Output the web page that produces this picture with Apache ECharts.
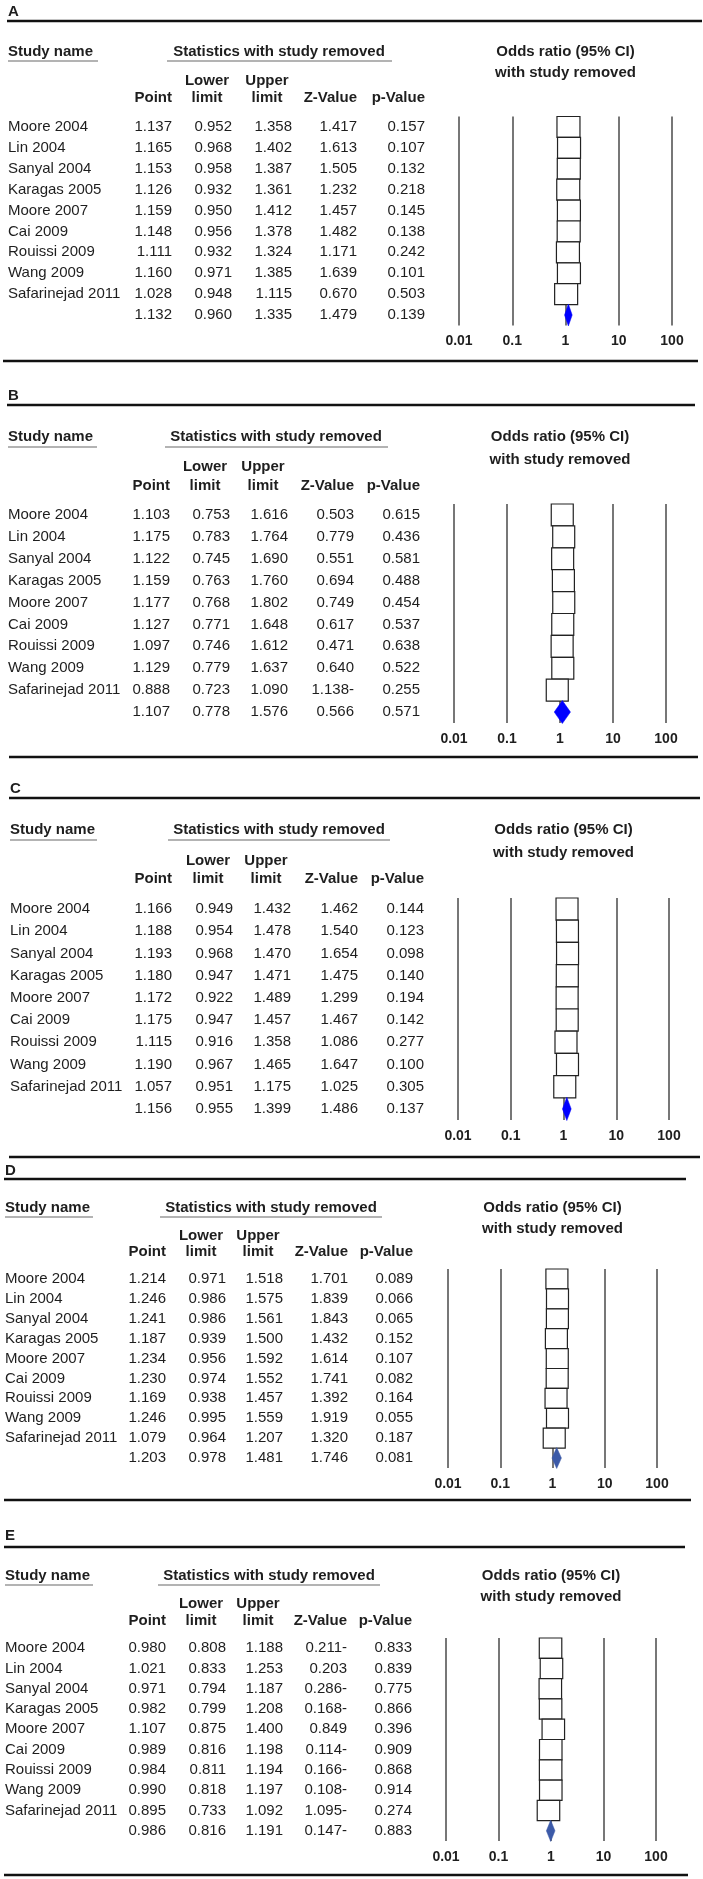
<!DOCTYPE html>
<html>
<head>
<meta charset="utf-8">
<script src="https://cdn.jsdelivr.net/npm/echarts@6/dist/echarts.min.js"></script>
<style>html,body{margin:0;padding:0;background:#fff}#c{width:703px;height:1879px}</style>
</head>
<body>
<div id="c"></div>
<script>
// ---------------- DATA ----------------
const panelLabels = ['A', 'B', 'C', 'D', 'E'];
const studyNames = ['Moore 2004', 'Lin 2004', 'Sanyal 2004', 'Karagas 2005', 'Moore 2007',
  'Cai 2009', 'Rouissi 2009', 'Wang 2009', 'Safarinejad 2011', ''];
const tickLabels = ['0.01', '0.1', '1', '10', '100'];

// last element of each array = pooled (summary) row
const A_point = [1.137, 1.165, 1.153, 1.126, 1.159, 1.148, 1.111, 1.160, 1.028, 1.132];
const A_lower = [0.952, 0.968, 0.958, 0.932, 0.950, 0.956, 0.932, 0.971, 0.948, 0.960];
const A_upper = [1.358, 1.402, 1.387, 1.361, 1.412, 1.378, 1.324, 1.385, 1.115, 1.335];
const A_z = ['1.417', '1.613', '1.505', '1.232', '1.457', '1.482', '1.171', '1.639', '0.670', '1.479'];
const A_p = ['0.157', '0.107', '0.132', '0.218', '0.145', '0.138', '0.242', '0.101', '0.503', '0.139'];

const B_point = [1.103, 1.175, 1.122, 1.159, 1.177, 1.127, 1.097, 1.129, 0.888, 1.107];
const B_lower = [0.753, 0.783, 0.745, 0.763, 0.768, 0.771, 0.746, 0.779, 0.723, 0.778];
const B_upper = [1.616, 1.764, 1.690, 1.760, 1.802, 1.648, 1.612, 1.637, 1.090, 1.576];
const B_z = ['0.503', '0.779', '0.551', '0.694', '0.749', '0.617', '0.471', '0.640', '1.138-', '0.566'];
const B_p = ['0.615', '0.436', '0.581', '0.488', '0.454', '0.537', '0.638', '0.522', '0.255', '0.571'];

const C_point = [1.166, 1.188, 1.193, 1.180, 1.172, 1.175, 1.115, 1.190, 1.057, 1.156];
const C_lower = [0.949, 0.954, 0.968, 0.947, 0.922, 0.947, 0.916, 0.967, 0.951, 0.955];
const C_upper = [1.432, 1.478, 1.470, 1.471, 1.489, 1.457, 1.358, 1.465, 1.175, 1.399];
const C_z = ['1.462', '1.540', '1.654', '1.475', '1.299', '1.467', '1.086', '1.647', '1.025', '1.486'];
const C_p = ['0.144', '0.123', '0.098', '0.140', '0.194', '0.142', '0.277', '0.100', '0.305', '0.137'];

const D_point = [1.214, 1.246, 1.241, 1.187, 1.234, 1.230, 1.169, 1.246, 1.079, 1.203];
const D_lower = [0.971, 0.986, 0.986, 0.939, 0.956, 0.974, 0.938, 0.995, 0.964, 0.978];
const D_upper = [1.518, 1.575, 1.561, 1.500, 1.592, 1.552, 1.457, 1.559, 1.207, 1.481];
const D_z = ['1.701', '1.839', '1.843', '1.432', '1.614', '1.741', '1.392', '1.919', '1.320', '1.746'];
const D_p = ['0.089', '0.066', '0.065', '0.152', '0.107', '0.082', '0.164', '0.055', '0.187', '0.081'];

const E_point = [0.980, 1.021, 0.971, 0.982, 1.107, 0.989, 0.984, 0.990, 0.895, 0.986];
const E_lower = [0.808, 0.833, 0.794, 0.799, 0.875, 0.816, 0.811, 0.818, 0.733, 0.816];
const E_upper = [1.188, 1.253, 1.187, 1.208, 1.400, 1.198, 1.194, 1.197, 1.092, 1.191];
const E_z = ['0.211-', '0.203', '0.286-', '0.168-', '0.849', '0.114-', '0.166-', '0.108-', '1.095-', '0.147-'];
const E_p = ['0.833', '0.839', '0.775', '0.866', '0.396', '0.909', '0.868', '0.914', '0.274', '0.883'];

const panelData = [
  {point: A_point, lower: A_lower, upper: A_upper, z: A_z, p: A_p},
  {point: B_point, lower: B_lower, upper: B_upper, z: B_z, p: B_p},
  {point: C_point, lower: C_lower, upper: C_upper, z: C_z, p: C_p},
  {point: D_point, lower: D_lower, upper: D_upper, z: D_z, p: D_p},
  {point: E_point, lower: E_lower, upper: E_upper, z: E_z, p: E_p}
];

// ---------------- LAYOUT (positions / styles only) ----------------
const FONT = "'Liberation Sans', Arial, Helvetica, sans-serif";
const layouts = [
  {labelY: 12, top: 21, topX: [7, 702], h1: 52, ul: 61, h2: 81, h3: 98, t2: 73, gTop: 116.5, gH: 209, gL: 459, gW: 213, bot: 361, botX: [3, 698], sx: 8, sul: [8, 98], stc: 279, stul: [167, 392], cols: [172, 232, 292, 357, 425], color: '#0000ff', boxW: 23},
  {labelY: 396, top: 405, topX: [7, 695], h1: 437, ul: 447, h2: 467, h3: 486, t2: 460, gTop: 504, gH: 219, gL: 454, gW: 212, bot: 757, botX: [9, 698], sx: 8, sul: [8, 97], stc: 276, stul: [165, 388], cols: [170, 230, 288, 354, 420], color: '#0000ff', boxW: 22},
  {labelY: 789, top: 798, topX: [9, 700], h1: 830, ul: 840, h2: 861, h3: 879, t2: 853, gTop: 898, gH: 222, gL: 458, gW: 211, bot: 1157, botX: [9, 700], sx: 10, sul: [10, 97], stc: 279, stul: [168, 390], cols: [172, 233, 291, 358, 424], color: '#0000ff', boxW: 22},
  {labelY: 1171, top: 1179, topX: [4, 686], h1: 1208, ul: 1217, h2: 1236, h3: 1252, t2: 1229, gTop: 1269, gH: 199, gL: 448, gW: 209, bot: 1500, botX: [4, 691], sx: 5, sul: [5, 93], stc: 271, stul: [160, 382], cols: [166, 226, 283, 348, 413], color: '#3c5aa8', boxW: 22},
  {labelY: 1536, top: 1547, topX: [4, 685], h1: 1576, ul: 1585, h2: 1604, h3: 1621, t2: 1597, gTop: 1638, gH: 203, gL: 446, gW: 210, bot: 1875, botX: [4, 688], sx: 5, sul: [5, 93], stc: 269, stul: [158, 380], cols: [166, 226, 283, 347, 412], color: '#3c5aa8', boxW: 22.5}
];

const TXT = '#1e1e1e';
function txt(x, y, s, align, bold) {
  return {
    type: 'text', x: x, y: y, silent: true,
    style: {
      text: s, fill: TXT, font: (bold ? 'bold ' : '') + '15px ' + FONT,
      align: align, textAlign: align, verticalAlign: 'middle', textVerticalAlign: 'middle'
    }
  };
}
function hline(x1, x2, y, w, color) {
  return {type: 'line', silent: true, shape: {x1: x1, y1: y, x2: x2, y2: y}, style: {stroke: color, lineWidth: w}};
}

const grids = [], xAxes = [], yAxes = [], series = [], graphics = [];
const nRows = studyNames.length;

layouts.forEach(function (L, i) {
  const D = panelData[i];
  grids.push({left: L.gL, top: L.gTop, width: L.gW, height: L.gH, containLabel: false});
  xAxes.push({
    type: 'log', gridIndex: i, min: 0.01, max: 100, logBase: 10, splitNumber: 4,
    axisLine: {show: false}, axisTick: {show: false},
    splitLine: {show: true, lineStyle: {color: '#555', width: 1.6}},
    axisLabel: {
      margin: 9, fontFamily: FONT, fontSize: 14, fontWeight: 'bold', color: TXT,
      showMinLabel: true, showMaxLabel: true,
      formatter: function (v) { return tickLabels[Math.round(Math.log10(v)) + 2]; }
    }
  });
  yAxes.push({type: 'value', gridIndex: i, inverse: true, min: -0.5, max: nRows - 0.5, show: false});

  // table text rows
  const tableData = [];
  for (let r = 0; r < nRows; r++) tableData.push([1, r]);
  series.push({
    type: 'custom', xAxisIndex: i, yAxisIndex: i, clip: false, silent: true, animation: false,
    data: tableData, encode: {x: 0, y: 1},
    renderItem: function (params, api) {
      const r = api.value(1);
      const y = api.coord([1, r])[1];
      const vals = [D.point[r].toFixed(3), D.lower[r].toFixed(3), D.upper[r].toFixed(3), D.z[r], D.p[r]];
      const children = [txt(L.sx, y, studyNames[r], 'left', false)];
      vals.forEach(function (s, k) { children.push(txt(L.cols[k], y, s, 'right', false)); });
      return {type: 'group', children: children};
    }
  });

  // study boxes with CI lines
  const studyData = [];
  for (let r = 0; r < nRows - 1; r++) studyData.push([D.point[r], r, D.lower[r], D.upper[r]]);
  series.push({
    type: 'custom', xAxisIndex: i, yAxisIndex: i, clip: false, silent: true, animation: false,
    data: studyData, encode: {x: [0, 2, 3], y: 1},
    renderItem: function (params, api) {
      const r = api.value(1);
      const c = api.coord([api.value(0), r]);
      const lo = api.coord([api.value(2), r]);
      const hi = api.coord([api.value(3), r]);
      const rowH = Math.abs(api.coord([1, r + 0.5])[1] - api.coord([1, r - 0.5])[1]);
      return {
        type: 'group', children: [
          {type: 'line', shape: {x1: lo[0], y1: c[1], x2: hi[0], y2: c[1]}, style: {stroke: '#222', lineWidth: 1}},
          {type: 'rect', shape: {x: c[0] - L.boxW / 2, y: c[1] - rowH / 2, width: L.boxW, height: rowH},
            style: {fill: '#fff', stroke: '#222', lineWidth: 1.2}}
        ]
      };
    }
  });

  // pooled diamond
  const s = nRows - 1;
  series.push({
    type: 'custom', xAxisIndex: i, yAxisIndex: i, clip: false, silent: true, animation: false,
    data: [[D.point[s], s, D.lower[s], D.upper[s]]], encode: {x: [0, 2, 3], y: 1},
    renderItem: function (params, api) {
      const r = api.value(1);
      const c = api.coord([api.value(0), r]);
      const lo = api.coord([api.value(2), r]);
      const hi = api.coord([api.value(3), r]);
      const h = Math.abs(api.coord([1, r + 0.5])[1] - api.coord([1, r - 0.5])[1]) * 1.05;
      return {
        type: 'polygon',
        shape: {points: [[lo[0], c[1]], [c[0], c[1] - h / 2], [hi[0], c[1]], [c[0], c[1] + h / 2]]},
        style: {fill: L.color, stroke: L.color, lineWidth: 0.5}
      };
    }
  });

  // headers, rules
  const cx = L.gL + L.gW / 2;
  graphics.push(
    txt(L.sx, L.labelY, panelLabels[i], 'left', true),
    hline(L.topX[0], L.topX[1], L.top, 2.6, '#111'),
    hline(L.botX[0], L.botX[1], L.bot, 2.6, '#111'),
    txt(L.sx, L.h1, 'Study name', 'left', true),
    hline(L.sul[0], L.sul[1], L.ul, 1.3, '#9a9a9a'),
    txt(L.stc, L.h1, 'Statistics with study removed', 'center', true),
    hline(L.stul[0], L.stul[1], L.ul, 1.3, '#9a9a9a'),
    txt(cx, L.h1, 'Odds ratio (95% CI)', 'center', true),
    txt(cx, L.t2, 'with study removed', 'center', true),
    txt(L.cols[0], L.h3, 'Point', 'right', true),
    txt(L.cols[1] - 25, L.h2, 'Lower', 'center', true),
    txt(L.cols[1] - 25, L.h3, 'limit', 'center', true),
    txt(L.cols[2] - 25, L.h2, 'Upper', 'center', true),
    txt(L.cols[2] - 25, L.h3, 'limit', 'center', true),
    txt(L.cols[3], L.h3, 'Z-Value', 'right', true),
    txt(L.cols[4], L.h3, 'p-Value', 'right', true)
  );
});

const chart = echarts.init(document.getElementById('c'), null, {renderer: 'canvas', width: 703, height: 1879});
chart.setOption({
  animation: false,
  backgroundColor: '#fff',
  grid: grids,
  xAxis: xAxes,
  yAxis: yAxes,
  series: series,
  graphic: {elements: graphics}
});
</script>
</body>
</html>
